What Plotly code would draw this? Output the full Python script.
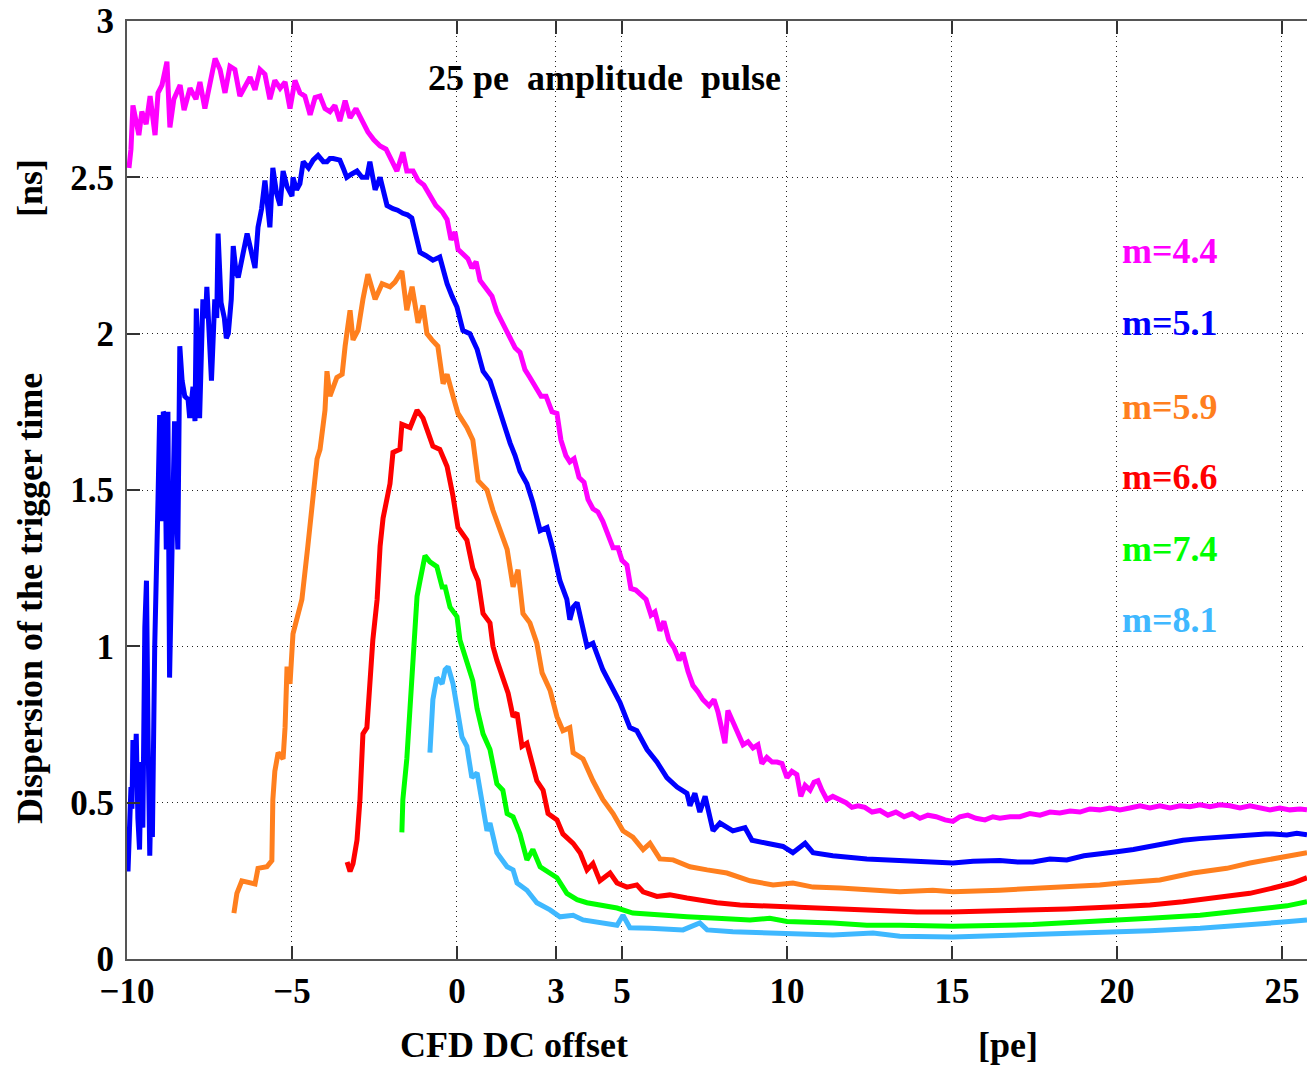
import plotly.graph_objects as go

# ---------------- data ----------------
m44_x = [-9.94, -9.88, -9.82, -9.73, -9.64, -9.55, -9.42, -9.30, -9.15, -9.06, -8.94, -8.79, -8.70, -8.58,
         -8.39, -8.27, -8.09, -7.91, -7.79, -7.64, -7.48, -7.33, -7.18, -7.03, -6.88, -6.73, -6.58, -6.42,
         -6.27, -6.12, -5.97, -5.82, -5.67, -5.52, -5.36, -5.21, -5.06, -4.91, -4.76, -4.61, -4.45, -4.30,
         -4.15, -4.00, -3.85, -3.70, -3.55, -3.39, -3.24, -3.06, -2.88, -2.70, -2.52, -2.33, -2.15, -1.97,
         -1.82, -1.64, -1.52, -1.33, -1.18, -1.00, -0.82, -0.64, -0.45, -0.30, -0.18, -0.06, 0.03, 0.15,
         0.33, 0.45, 0.58, 0.70, 0.88, 1.06, 1.21, 1.39, 1.58, 1.76, 1.91, 2.06, 2.21, 2.39, 2.55, 2.70,
         2.88, 3.03, 3.15, 3.30, 3.42, 3.55, 3.70, 3.85, 3.97, 4.12, 4.27, 4.42, 4.58, 4.73, 4.88, 5.00,
         5.15, 5.27, 5.42, 5.58, 5.73, 5.88, 6.00, 6.15, 6.27, 6.42, 6.58, 6.73, 6.85, 7.00, 7.15, 7.30,
         7.45, 7.64, 7.79, 7.91, 8.03, 8.12, 8.21, 8.36, 8.52, 8.67, 8.82, 8.97, 9.12, 9.24, 9.39, 9.55,
         9.70, 9.85, 10.00, 10.15, 10.30, 10.42, 10.55, 10.70, 10.82, 10.94, 11.06, 11.21, 11.39, 11.61,
         11.79, 11.97, 12.15, 12.36, 12.58, 12.82, 13.06, 13.30, 13.55, 13.79, 14.03, 14.27, 14.52, 14.79,
         15.03, 15.24, 15.48, 15.73, 16.00, 16.24, 16.45, 16.76, 17.06, 17.36, 17.67, 17.97, 18.27, 18.58,
         18.88, 19.18, 19.48, 19.79, 20.09, 20.39, 20.70, 21.00, 21.30, 21.61, 21.91, 22.21, 22.52, 22.82,
         23.12, 23.42, 23.73, 24.03, 24.33, 24.64, 24.94, 25.24, 25.55, 25.76]
m44_y = [2.53, 2.59, 2.73, 2.68, 2.635, 2.71, 2.67, 2.76, 2.635, 2.77, 2.795, 2.87, 2.66, 2.75,
         2.795, 2.715, 2.785, 2.75, 2.805, 2.72, 2.81, 2.88, 2.845, 2.77, 2.855, 2.845, 2.76, 2.795,
         2.82, 2.78, 2.845, 2.83, 2.75, 2.81, 2.785, 2.805, 2.72, 2.81, 2.77, 2.76, 2.70, 2.755,
         2.76, 2.72, 2.71, 2.73, 2.68, 2.745, 2.69, 2.72, 2.68, 2.645, 2.62, 2.60, 2.59, 2.55,
         2.52, 2.58, 2.52, 2.52, 2.49, 2.475, 2.445, 2.41, 2.39, 2.365, 2.30, 2.325, 2.27, 2.26,
         2.24, 2.21, 2.23, 2.17, 2.145, 2.12, 2.07, 2.03, 1.99, 1.955, 1.94, 1.885, 1.86, 1.83, 1.80, 1.80,
         1.75, 1.745, 1.66, 1.61, 1.59, 1.60, 1.54, 1.525, 1.47, 1.44, 1.43, 1.40, 1.355, 1.315, 1.315, 1.275,
         1.26, 1.185, 1.18, 1.165, 1.15, 1.10, 1.11, 1.05, 1.08, 1.02, 0.995, 0.955, 0.98, 0.92, 0.875, 0.855,
         0.83, 0.81, 0.83, 0.79, 0.74, 0.69, 0.795, 0.76, 0.715, 0.685, 0.695, 0.675, 0.685, 0.625, 0.645, 0.63,
         0.63, 0.625, 0.58, 0.60, 0.59, 0.52, 0.555, 0.54, 0.565, 0.57, 0.54, 0.51, 0.52, 0.51,
         0.50, 0.485, 0.49, 0.485, 0.47, 0.475, 0.46, 0.47, 0.455, 0.465, 0.45, 0.46, 0.455, 0.445,
         0.44, 0.455, 0.46, 0.45, 0.445, 0.455, 0.45, 0.455, 0.455, 0.465, 0.46, 0.47, 0.467, 0.473,
         0.47, 0.48, 0.477, 0.483, 0.477, 0.483, 0.49, 0.483, 0.49, 0.483, 0.49, 0.487, 0.493, 0.487,
         0.493, 0.49, 0.483, 0.49, 0.483, 0.477, 0.483, 0.477, 0.48, 0.477]

m51_x = [-9.97, -9.94, -9.92, -9.88, -9.85, -9.82, -9.77, -9.72, -9.67, -9.62, -9.57, -9.52, -9.46, -9.41,
         -9.36, -9.31, -9.27, -9.23, -9.16, -9.11, -9.06, -9.01, -8.95, -8.90, -8.86, -8.81, -8.76, -8.71,
         -8.66, -8.60, -8.56, -8.50, -8.46, -8.40, -8.33, -8.25, -8.15, -8.10, -8.00, -7.94, -7.90, -7.85,
         -7.80, -7.70, -7.62, -7.58, -7.50, -7.44, -7.34, -7.28, -7.24, -7.15, -7.05, -6.99, -6.93, -6.84,
         -6.78, -6.70, -6.63, -6.50, -6.36, -6.25, -6.12, -6.03, -5.92, -5.82, -5.75, -5.67, -5.58, -5.47,
         -5.36, -5.27, -5.15, -5.00, -4.97, -4.86, -4.76, -4.66, -4.50, -4.36, -4.21, -4.05, -3.94, -3.85,
         -3.75, -3.55, -3.45, -3.34, -3.20, -3.03, -2.88, -2.73, -2.64, -2.48, -2.33, -2.22, -2.12, -1.94,
         -1.80, -1.64, -1.50, -1.37, -1.25, -1.12, -0.95, -0.73, -0.52, -0.30, -0.15, 0.00, 0.18, 0.39,
         0.61, 0.79, 1.00, 1.21, 1.39, 1.61, 1.76, 1.91, 2.12, 2.30, 2.52, 2.73, 2.91, 3.12, 3.33, 3.42,
         3.52, 3.64, 3.94, 4.12, 4.42, 4.73, 4.94, 5.24, 5.45, 5.76, 6.06, 6.36, 6.67, 6.97, 7.06, 7.21,
         7.36, 7.52, 7.76, 7.97, 8.36, 8.73, 8.94, 9.39, 9.88, 10.18, 10.55, 10.79, 11.39, 12.42, 13.42,
         14.42, 15.03, 15.64, 16.45, 17.00, 17.45, 17.97, 18.48, 19.00, 19.48, 20.00, 20.50, 21.00, 21.50,
         22.00, 22.50, 23.03, 23.50, 24.03, 24.50, 24.73, 25.15, 25.45, 25.76]
m51_y = [0.28, 0.36, 0.41, 0.55, 0.48, 0.70, 0.56, 0.72, 0.45, 0.35, 0.63, 0.42, 1.06, 1.21,
         0.70, 0.33, 0.55, 0.39, 1.00, 1.37, 1.47, 1.74, 1.40, 1.75, 1.74, 1.31, 1.75, 0.90,
         1.13, 1.52, 1.72, 1.45, 1.31, 1.96, 1.85, 1.80, 1.79, 1.73, 1.83, 1.72, 2.08, 1.95,
         1.73, 2.11, 2.05, 2.15, 1.95, 1.85, 2.11, 2.05, 2.32, 2.10, 2.05, 1.985, 2.00, 2.11,
         2.28, 2.20, 2.18, 2.25, 2.32, 2.27, 2.21, 2.34, 2.40, 2.49, 2.42, 2.34, 2.53, 2.45,
         2.41, 2.52, 2.47, 2.44, 2.50, 2.46, 2.48, 2.55, 2.53, 2.555, 2.57, 2.55, 2.55, 2.56,
         2.56, 2.555, 2.53, 2.50, 2.51, 2.52, 2.50, 2.50, 2.55, 2.46, 2.50, 2.45, 2.41, 2.40,
         2.395, 2.385, 2.38, 2.37, 2.31, 2.26, 2.25, 2.235, 2.245, 2.16, 2.12, 2.085, 2.01, 2.00,
         1.95, 1.88, 1.85, 1.78, 1.72, 1.65, 1.61, 1.56, 1.52, 1.46, 1.37, 1.38, 1.31, 1.21, 1.15, 1.085,
         1.125, 1.14, 1.00, 1.01, 0.925, 0.86, 0.82, 0.74, 0.73, 0.67, 0.63, 0.58, 0.55, 0.53, 0.49, 0.53,
         0.47, 0.52, 0.41, 0.435, 0.41, 0.42, 0.38, 0.37, 0.36, 0.34, 0.37, 0.34, 0.33, 0.32, 0.315,
         0.31, 0.307, 0.313, 0.315, 0.31, 0.31, 0.32, 0.317, 0.33, 0.338, 0.343, 0.35, 0.36, 0.37,
         0.38, 0.385, 0.39, 0.393, 0.397, 0.40, 0.40, 0.397, 0.402, 0.397]

m59_x = [-6.76, -6.67, -6.52, -6.27, -6.12, -6.03, -5.76, -5.61, -5.58, -5.52, -5.42, -5.27, -5.21, -5.15,
         -5.06, -4.97, -4.82, -4.70, -4.52, -4.36, -4.24, -4.15, -4.00, -3.94, -3.85, -3.64, -3.48, -3.39,
         -3.24, -3.15, -3.00, -2.85, -2.70, -2.48, -2.27, -2.03, -1.88, -1.67, -1.52, -1.36, -1.18, -1.03,
         -0.91, -0.76, -0.58, -0.42, -0.30, -0.12, 0.03, 0.30, 0.48, 0.64, 0.91, 1.09, 1.30, 1.52, 1.70,
         1.85, 2.00, 2.21, 2.42, 2.58, 2.82, 3.03, 3.21, 3.42, 3.52, 3.82, 4.12, 4.42, 4.73, 5.03, 5.33,
         5.64, 5.85, 6.15, 6.55, 7.06, 7.58, 8.18, 8.88, 9.58, 10.18, 10.79, 11.61, 12.42, 13.42, 14.42,
         15.03, 16.45, 17.97, 19.48, 20.09, 21.30, 22.30, 23.33, 24.03, 24.73, 25.15, 25.76]
m59_y = [0.147, 0.21, 0.25, 0.245, 0.24, 0.29, 0.295, 0.315, 0.51, 0.60, 0.66, 0.64, 0.74, 0.935,
         0.88, 1.04, 1.105, 1.15, 1.32, 1.50, 1.60, 1.63, 1.755, 1.88, 1.80, 1.86, 1.87, 1.96,
         2.075, 1.98, 2.01, 2.11, 2.19, 2.11, 2.16, 2.15, 2.165, 2.20, 2.075, 2.15, 2.035, 2.09,
         2.00, 1.98, 1.96, 1.84, 1.87, 1.80, 1.745, 1.70, 1.66, 1.53, 1.50, 1.435, 1.37, 1.31, 1.19,
         1.245, 1.105, 1.075, 1.01, 0.915, 0.86, 0.775, 0.73, 0.74, 0.66, 0.64, 0.57, 0.51, 0.465, 0.41, 0.39,
         0.35, 0.37, 0.32, 0.317, 0.295, 0.285, 0.275, 0.25, 0.237, 0.243, 0.23, 0.227, 0.22, 0.215, 0.22,
         0.215, 0.22, 0.227, 0.237, 0.243, 0.253, 0.275, 0.29, 0.307, 0.32, 0.33, 0.34]

m66_x = [-3.33, -3.24, -3.15, -3.03, -2.94, -2.85, -2.73, -2.64, -2.55, -2.42, -2.33, -2.24, -2.03, -1.94,
         -1.73, -1.67, -1.42, -1.21, -1.03, -0.88, -0.73, -0.52, -0.30, -0.12, 0.03, 0.30, 0.48, 0.64,
         0.79, 1.00, 1.09, 1.21, 1.39, 1.55, 1.70, 1.82, 1.97, 2.12, 2.27, 2.42, 2.61, 2.76, 3.03, 3.21,
         3.52, 3.73, 3.94, 4.12, 4.33, 4.64, 4.85, 5.15, 5.45, 5.64, 6.06, 6.45, 6.97, 7.88, 8.58, 9.58,
         10.91, 12.42, 13.94, 14.94, 16.45, 18.48, 20.00, 21.00, 22.00, 23.03, 24.03, 24.73, 25.33, 25.76]
m66_y = [0.31, 0.28, 0.305, 0.38, 0.51, 0.72, 0.74, 0.89, 1.02, 1.15, 1.32, 1.41, 1.52, 1.62,
         1.63, 1.71, 1.70, 1.755, 1.73, 1.685, 1.64, 1.63, 1.575, 1.48, 1.38, 1.34, 1.25, 1.21,
         1.105, 1.075, 1.00, 0.955, 0.90, 0.85, 0.775, 0.787, 0.68, 0.69, 0.63, 0.57, 0.54, 0.465, 0.445, 0.40,
         0.37, 0.34, 0.285, 0.305, 0.25, 0.275, 0.243, 0.23, 0.237, 0.215, 0.20, 0.205, 0.195, 0.18, 0.173, 0.167,
         0.163, 0.157, 0.15, 0.15, 0.153, 0.16, 0.167, 0.173, 0.183, 0.195, 0.21, 0.227, 0.243, 0.26]

m74_x = [-1.67, -1.64, -1.52, -1.42, -1.33, -1.21, -1.12, -0.97, -0.82, -0.61, -0.45, -0.36, -0.21, 0.00,
         0.09, 0.30, 0.48, 0.61, 0.79, 1.00, 1.21, 1.39, 1.52, 1.70, 1.91, 2.12, 2.30, 2.52, 2.82, 3.03,
         3.33, 3.64, 3.94, 4.33, 4.85, 5.33, 6.15, 6.97, 7.88, 8.88, 9.48, 10.00, 11.39, 12.42, 13.42,
         15.03, 17.45, 19.48, 21.00, 22.52, 23.52, 24.55, 25.15, 25.76]
m74_y = [0.405, 0.51, 0.64, 0.83, 1.00, 1.16, 1.21, 1.29, 1.27, 1.255, 1.19, 1.19, 1.125, 1.095,
         1.02, 0.95, 0.89, 0.80, 0.72, 0.67, 0.56, 0.54, 0.465, 0.455, 0.40, 0.317, 0.35, 0.295, 0.275, 0.26,
         0.21, 0.19, 0.18, 0.173, 0.163, 0.147, 0.14, 0.135, 0.13, 0.125, 0.13, 0.12, 0.115, 0.108, 0.108,
         0.105, 0.11, 0.12, 0.13, 0.14, 0.15, 0.163, 0.17, 0.183]

m81_x = [-0.82, -0.76, -0.73, -0.61, -0.45, -0.36, -0.27, -0.12, 0.03, 0.15, 0.30, 0.45, 0.61, 0.79,
         0.91, 1.00, 1.21, 1.52, 1.70, 1.82, 2.12, 2.42, 2.82, 3.12, 3.52, 3.82, 4.33, 4.85, 5.03, 5.24,
         5.85, 6.85, 7.36, 7.58, 8.36, 9.88, 11.39, 12.61, 13.42, 15.03, 17.45, 19.48, 21.00, 22.52,
         24.03, 25.03, 25.76]
m81_y = [0.66, 0.74, 0.83, 0.90, 0.88, 0.925, 0.935, 0.88, 0.785, 0.71, 0.68, 0.58, 0.595, 0.485,
         0.41, 0.435, 0.34, 0.295, 0.285, 0.243, 0.22, 0.18, 0.157, 0.135, 0.14, 0.125, 0.115, 0.108, 0.14, 0.10,
         0.098, 0.093, 0.115, 0.093, 0.087, 0.083, 0.077, 0.083, 0.073, 0.07, 0.077, 0.083, 0.09, 0.098,
         0.108, 0.118, 0.125]

series_names = ["m=4.4", "m=5.1", "m=5.9", "m=6.6", "m=7.4", "m=8.1"]
series_x = [m44_x, m51_x, m59_x, m66_x, m74_x, m81_x]
series_y = [m44_y, m51_y, m59_y, m66_y, m74_y, m81_y]
series_colors = ["#ff00ff", "#0000ff", "#ff7f1e", "#ff0000", "#00ff00", "#3fb8ff"]
label_y = [2.265, 2.034, 1.765, 1.54, 1.31, 1.084]
label_x = 20.09

x_tickvals = [-10, -5, 0, 3, 5, 10, 15, 20, 25]
x_ticktext = ["\u221210", "\u22125", "0", "3", "5", "10", "15", "20", "25"]
y_tickvals = [0, 0.5, 1, 1.5, 2, 2.5, 3]
y_ticktext = ["0", "0.5", "1", "1.5", "2", "2.5", "3"]

FONT = "Liberation Serif, Times New Roman, serif"

fig = go.Figure()
for xs, ys, c, n in zip(series_x, series_y, series_colors, series_names):
    fig.add_trace(go.Scatter(x=xs, y=ys, mode="lines", name=n,
                             line=dict(color=c, width=5), showlegend=False))

W, H = 1307, 1065
L, R, T, B = 127, 0, 21, 106
pw, ph = W - L - R, H - T - B


def px2paper(px, py):
    return (px - L) / pw, (H - B - py) / ph


annotations = []
for n, c, ly in zip(series_names, series_colors, label_y):
    annotations.append(dict(x=label_x, y=ly, xref="x", yref="y", text=n, showarrow=False,
                            xanchor="left", yanchor="middle",
                            font=dict(family=FONT, size=36, color=c, weight="bold")))

ax, ay = px2paper(604, 78)
annotations.append(dict(x=ax, y=ay, xref="paper", yref="paper",
                        text="25 pe\u00a0 amplitude\u00a0 pulse", showarrow=False,
                        xanchor="center", yanchor="middle",
                        font=dict(family=FONT, size=36, color="black", weight="bold")))
ax, ay = px2paper(30, 599)
annotations.append(dict(x=ax, y=ay, xref="paper", yref="paper",
                        text="Dispersion of the trigger time", showarrow=False, textangle=-90,
                        xanchor="center", yanchor="middle",
                        font=dict(family=FONT, size=36, color="black", weight="bold")))
ax, ay = px2paper(30, 188)
annotations.append(dict(x=ax, y=ay, xref="paper", yref="paper",
                        text="[ns]", showarrow=False, textangle=-90,
                        xanchor="center", yanchor="middle",
                        font=dict(family=FONT, size=36, color="black", weight="bold")))
ax, ay = px2paper(514, 1045)
annotations.append(dict(x=ax, y=ay, xref="paper", yref="paper",
                        text="CFD DC offset", showarrow=False,
                        xanchor="center", yanchor="middle",
                        font=dict(family=FONT, size=36, color="black", weight="bold")))
ax, ay = px2paper(1008, 1045)
annotations.append(dict(x=ax, y=ay, xref="paper", yref="paper",
                        text="[pe]", showarrow=False,
                        xanchor="center", yanchor="middle",
                        font=dict(family=FONT, size=36, color="black", weight="bold")))

fig.update_layout(
    width=W, height=H,
    margin=dict(l=L, r=R, t=T, b=B, pad=0),
    paper_bgcolor="white", plot_bgcolor="white",
    annotations=annotations,
    xaxis=dict(range=[-10, 25.76], tickmode="array", tickvals=x_tickvals, ticktext=x_ticktext,
               showgrid=True, gridcolor="#222222", gridwidth=1, griddash="1px,4px",
               zeroline=False, showline=True, linecolor="#555555", linewidth=2, mirror="ticks",
               ticks="inside", ticklen=13, tickwidth=2, tickcolor="#333333",
               ticklabelstandoff=0,
               tickfont=dict(family=FONT, size=35, color="black", weight="bold")),
    yaxis=dict(range=[0, 3], tickmode="array", tickvals=y_tickvals, ticktext=y_ticktext,
               showgrid=True, gridcolor="#222222", gridwidth=1, griddash="1px,4px",
               zeroline=False, showline=True, linecolor="#555555", linewidth=2, mirror=False,
               ticks="inside", ticklen=13, tickwidth=2, tickcolor="#333333",
               ticklabelstandoff=4,
               tickfont=dict(family=FONT, size=35, color="black", weight="bold")),
)

fig.write_html("out.html")
